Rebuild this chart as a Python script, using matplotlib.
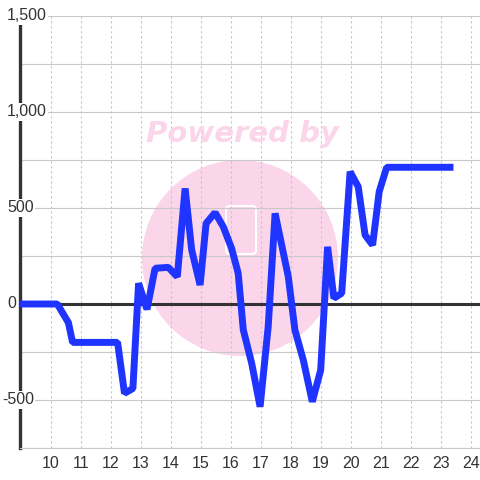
import matplotlib
matplotlib.use('Agg')
import matplotlib.pyplot as plt
import matplotlib.transforms as mtransforms
from matplotlib.patches import Circle, FancyBboxPatch
from matplotlib.ticker import MultipleLocator, NullLocator

# Дані
x_vals = [8.97, 10.21, 10.58, 10.72, 12.22, 12.45, 12.73, 12.92, 13.2, 13.47,
          13.91, 14.21, 14.47, 14.69, 14.97, 15.17, 15.47, 15.74, 16.02, 16.24,
          16.41, 16.69, 16.97, 17.24, 17.47, 17.91, 18.13, 18.41, 18.71, 18.99,
          19.22, 19.43, 19.69, 19.97, 20.24, 20.47, 20.72, 20.94, 21.19, 23.3]
y_vals = [0, 0, -97, -200, -200, -465, -440, 108, -28, 186,
          191, 142, 602, 281, 99, 420, 476, 403, 290, 160,
          -135, -309, -535, -118, 472, 142, -135, -292, -509, -344,
          298, 30, 56, 689, 611, 359, 307, 585, 712, 712]
x_ticks = list(range(10, 25))
y_ticks = [-500, 0, 500, 1000, 1500]

plt.rcParams['font.family'] = ['Liberation Sans', 'DejaVu Sans']

fig = plt.figure(figsize=(4.8, 4.8), dpi=100)
ax = fig.add_axes([20 / 480, 32 / 480, 460 / 480, 432 / 480])

# Водяний знак
circle = Circle((240 / 480, 1 - 258 / 480), 98 / 480, transform=fig.transFigure,
                facecolor='#fbd5ea', edgecolor='none', zorder=0.1, clip_on=False)
ax.add_patch(circle)
logo = FancyBboxPatch((226 / 480, 1 - 254 / 480), 30 / 480, 48 / 480,
                      boxstyle='round,pad=0,rounding_size=0.008',
                      transform=fig.transFigure, facecolor='none',
                      edgecolor='white', linewidth=1.5, zorder=0.2, clip_on=False)
ax.add_patch(logo)
fig.text(242 / 480, 1 - 134 / 480, 'Powered by', color='#fbd5ea', fontsize=21,
         fontweight='bold', fontstyle='italic', ha='center', va='center',
         family=['DejaVu Sans'])

ax.plot(x_vals, y_vals, color='#1f35ff', linewidth=5, zorder=3,
        solid_joinstyle='bevel')

ax.set_xlim(8.967, 24.3)
ax.set_ylim(-750, 1500)

# Сітка
ax.set_axisbelow(True)
ax.set_xticks(x_ticks)
ax.xaxis.set_minor_locator(NullLocator())
ax.yaxis.set_major_locator(MultipleLocator(250))
ax.grid(axis='x', color='#c4c4c4', linestyle=(0, (2, 2.5)), linewidth=0.8)
ax.grid(axis='y', color='#c8c8c8', linestyle='-', linewidth=0.8)
ax.axhline(0, color='#333333', linewidth=2.2, zorder=2)
ax.set_yticklabels([])

# Підписи осі Y поверх осі, з білим фоном
trans = mtransforms.blended_transform_factory(fig.transFigure, ax.transData)
for v in y_ticks:
    xpos = 2 / 480 if v < 0 else 7 / 480
    ax.text(xpos, v, f'{v:,}', transform=trans, ha='left', va='center',
            fontsize=11.5, color='#333333', zorder=2.6, clip_on=False,
            bbox=dict(facecolor='white', edgecolor='none', pad=1))

for s in ['top', 'right']:
    ax.spines[s].set_visible(False)
ax.spines['left'].set_color('#333333')
ax.spines['left'].set_linewidth(2.4)
ax.spines['bottom'].set_color('#c8c8c8')
ax.spines['bottom'].set_linewidth(0.8)

ax.tick_params(axis='both', which='both', length=0, labelsize=11.5, labelcolor='#333333')
ax.tick_params(axis='x', pad=6)

fig.savefig('out.png', dpi=100, facecolor='white')
